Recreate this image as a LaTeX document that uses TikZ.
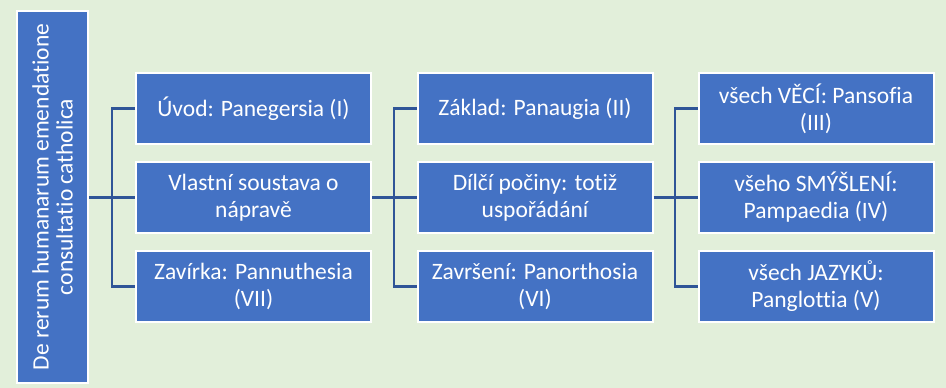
\documentclass[tikz,border=0pt]{standalone}
\usepackage{fontspec}
\setmainfont{Carlito}[Ligatures=CommonOff]
\definecolor{bg}{HTML}{E2EFDA}
\definecolor{boxblue}{HTML}{4472C4}
\definecolor{linkblue}{HTML}{2F5597}
\begin{document}
\begin{tikzpicture}[x=1pt,y=-1pt,
  box/.style={draw=white,line width=2pt,fill=boxblue,text=white,
    minimum width=235pt,minimum height=71pt,inner sep=0pt,align=center,
    font=\fontsize{23.5}{27}\selectfont},
  rootbox/.style={draw=white,line width=2pt,fill=boxblue,text=white,
    minimum width=372pt,minimum height=71pt,inner sep=0pt,align=center,
    rotate=90,font=\fontsize{23.5}{24}\selectfont},
  link/.style={draw=linkblue,line width=2.2pt}]
\fill[bg] (0,0) rectangle (946,388);
\useasboundingbox (0,0) rectangle (946,388);
\node[rootbox] (root) at (52.5,197) {De rerum humanarum emendatione\\consultatio catholica};
\node[box] (a1) at (253.5,108.5) {Úvod: Panegersia (I)};
\node[box] (a2) at (253.5,197.5) {Vlastní soustava o\\nápravě};
\node[box] (a3) at (253.5,286.5) {Zavírka: Pannuthesia\\(VII)};
\node[box] (b1) at (535,108.5) {Základ: Panaugia (II)};
\node[box] (b2) at (535,197.5) {Dílčí počiny: totiž\\uspořádání};
\node[box] (b3) at (535,286.5) {Završení: Panorthosia\\(VI)};
\node[box] (c1) at (816,108.5) {všech VĚCÍ: Pansofia\\(III)};
\node[box] (c2) at (816,197.5) {všeho SMÝŠLENÍ:\\Pampaedia (IV)};
\node[box] (c3) at (816,286.5) {všech JAZYKŮ:\\Panglottia (V)};
\coordinate (j1) at (112,197.5);
\coordinate (j2) at (394,197.5);
\coordinate (j3) at (675,197.5);
\draw[link] (root.south |- a2) -- (a2.west);
\draw[link] (a1.west) -| (j1) |- (a3.west);
\draw[link] (a2.east) -- (b2.west);
\draw[link] (b1.west) -| (j2) |- (b3.west);
\draw[link] (b2.east) -- (c2.west);
\draw[link] (c1.west) -| (j3) |- (c3.west);
\end{tikzpicture}
\end{document}
